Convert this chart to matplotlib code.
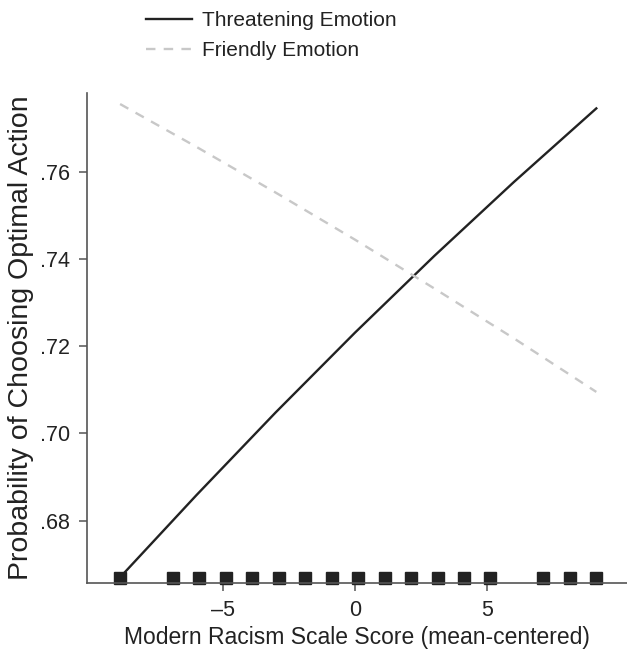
import matplotlib.pyplot as plt
from matplotlib.ticker import FuncFormatter

plt.rcParams['font.family'] = ['Liberation Sans', 'DejaVu Sans']

# predicted probabilities
x_pred = [-8.88, -6, -3, 0, 3, 6, 9.12]
threat_prob = [0.667, 0.6858, 0.7048, 0.7231, 0.7407, 0.7576, 0.7745]
friendly_prob = [0.7755, 0.7657, 0.7552, 0.7444, 0.7332, 0.7218, 0.7095]

# observed scale scores (rug along the x axis)
rug_x = [-8.88, -6.88, -5.88, -4.88, -3.88, -2.88, -1.88, -0.88, 0.12,
         1.12, 2.12, 3.12, 4.12, 5.12, 7.12, 8.12, 9.12]

y_ticks = [0.68, 0.70, 0.72, 0.74, 0.76]
x_ticks = [-5, 0, 5]

dark = '#222222'
light = '#c8c8c8'
spine = '#555555'

fig = plt.figure(figsize=(6.27, 6.51), dpi=100)
ax = fig.add_axes([0.1388, 0.1045, 0.8612, 0.7531])

ax.plot(x_pred, threat_prob, color=dark, lw=1.7, label='Threatening Emotion')
ax.plot(x_pred, friendly_prob, color=light, lw=1.7, dashes=(4, 3.5),
        label='Friendly Emotion')
ax.plot(rug_x, [0.011] * len(rug_x), ls='none', marker='s', ms=9.2,
        color=dark, transform=ax.get_xaxis_transform(), clip_on=False)

ax.set_xlim(-10.13, 10.28)
ax.set_ylim(0.6657, 0.7781)
ax.set_xticks(x_ticks)
ax.set_yticks(y_ticks)
ax.xaxis.set_major_formatter(FuncFormatter(lambda v, p: ('%d' % v).replace('-', '\u2013')))
ax.yaxis.set_major_formatter(FuncFormatter(lambda v, p: ('%.2f' % v)[1:]))

for s in ['top', 'right']:
    ax.spines[s].set_visible(False)
for s in ['left', 'bottom']:
    ax.spines[s].set_color(spine)
    ax.spines[s].set_linewidth(1.2)
ax.tick_params(direction='out', length=6, width=1.1, color=spine,
               labelsize=15.5, labelcolor=dark, pad=6)

ax.set_xlabel('Modern Racism Scale Score (mean-centered)', fontsize=16.5,
              color=dark, labelpad=4)
ax.set_ylabel('Probability of Choosing Optimal Action', fontsize=20.5,
              color=dark)
ax.yaxis.set_label_coords(-0.098, 0.5)

fig.legend(loc='upper left', bbox_to_anchor=(0.203, 1.012), frameon=False,
           fontsize=15, handlelength=2.2, handletextpad=0.5, labelspacing=0.55,
           labelcolor=dark)

fig.savefig('out.png', dpi=100)
